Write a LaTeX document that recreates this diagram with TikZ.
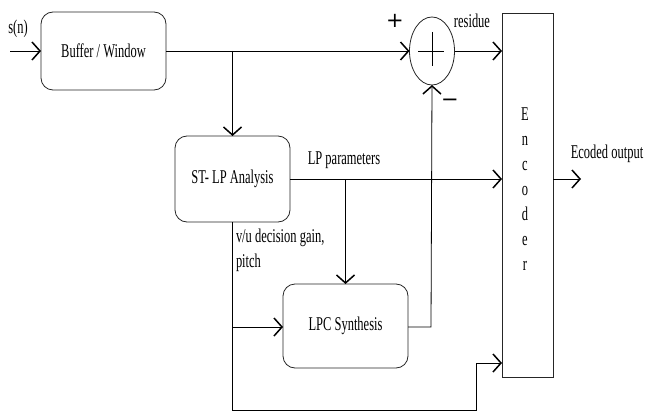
\documentclass[tikz,border=0pt]{standalone}
\usepackage{fontspec}
\setmainfont{Liberation Serif}[FakeStretch=0.64]
\newfontfamily\symfont{DejaVu Sans}
\usetikzlibrary{arrows.meta,shapes.geometric}
\begin{document}
\begin{tikzpicture}[x=1pt,y=-1pt,
  every node/.style={inner sep=0pt,outer sep=0pt},
  wire/.style={line width=0.8pt,draw=black},
  arr/.style={wire,-{Straight Barb[length=8pt,width=18pt,line width=1.5pt]}},
  rbox/.style={draw=black!85,line width=0.8pt,rounded corners=12pt,rectangle},
  lbl/.style={font=\fontsize{19.5}{20}\selectfont},
  sgn/.style={font=\symfont\fontsize{21}{22}\selectfont}]
\useasboundingbox (0,0) rectangle (645,412);
% blocks
\node[rbox,minimum width=125pt,minimum height=78pt,lbl] (buf) at (103.5,51) {Buffer / Window};
\node[rbox,minimum width=115pt,minimum height=86pt,lbl] (sta) at (232.5,179) {ST- LP Analysis};
\node[rbox,minimum width=125pt,minimum height=84pt,lbl] (lpc) at (345.5,326) {LPC Synthesis};
\node[draw=black!85,line width=0.8pt,ellipse,minimum width=45pt,minimum height=68pt] (add) at (432,51) {};
\node[draw=black!85,line width=0.8pt,rectangle,minimum width=51pt,minimum height=364pt] (enc) at (527.5,195) {};
\node[lbl,align=center,font=\fontsize{19.5}{25}\selectfont] (enct) at (525,189) {E\\n\\c\\o\\d\\e\\r};
% inner plus of adder
\draw[wire] (add.center) ++(0,-19) coordinate (pt) -- ++(0,34) coordinate (pb);
\draw[wire] (add.center) ++(-14,0) coordinate (pl) -- ++(26,0) coordinate (pr);
% coordinates
\coordinate (inp) at (10,51);
\coordinate (j1) at (232.5,51);
\coordinate (j2) at (345.5,179);
\coordinate (j3) at (232.5,327);
\coordinate (c1) at (431,327);
\coordinate (b1) at (232.5,410);
\coordinate (b2) at (476,410);
\coordinate (b3) at (476,363);
\coordinate (outp) at (581,179);
% connectors
\draw[arr] (inp) -- (buf.west);
\draw[arr] (buf.east) -- (add.west);
\draw[arr] (j1) -- (sta.north);
\draw[arr] (sta.east) -- (enc.west |- sta.east);
\draw[arr] (j2) -- (lpc.north);
\draw[arr] (lpc.east |- c1) -- (c1) -- (add.south);
\draw[wire] (sta.south) -- (b1) -- (b2) -- (b3);
\draw[arr] (b3) -- (enc.west |- b3);
\draw[arr] (j3) -- (lpc.west |- j3);
\draw[arr] (add.east) -- (enc.west |- add.east);
\draw[arr] (enc.east |- outp) -- (outp);
% labels
\node[lbl] (lsn) at (18,29) {s(n)};
\node[lbl] (lres) at (472,21) {residue};
\node[lbl] (llp) at (344,160) {LP parameters};
\node[lbl,anchor=west] (lvu) at (236,238) {v/u decision gain,};
\node[lbl,anchor=west] (lpi) at (236,263) {pitch};
\node[lbl] (lout) at (607,154) {Ecoded output};
\node[sgn] (lplus) at (395,21) {+};
\node[sgn] (lminus) at (450,103) {−};
\end{tikzpicture}
\end{document}
